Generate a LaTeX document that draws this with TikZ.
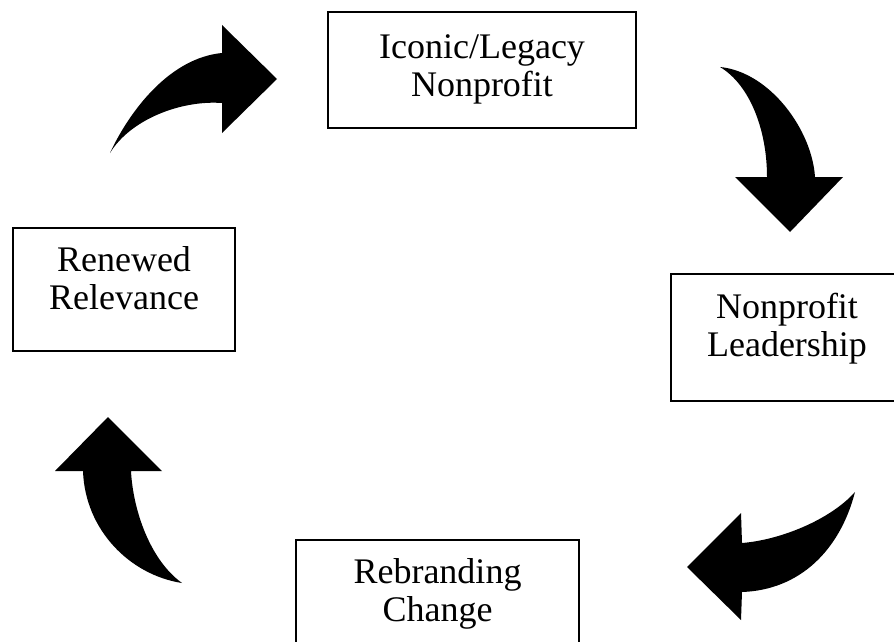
\documentclass[tikz,border=0pt]{standalone}
\usepackage{fontspec}
\setmainfont{Liberation Serif}
\usepackage{tikz}

\begin{document}
\begin{tikzpicture}[
    x=1pt, y=-1pt,
    box/.style={rectangle, draw, line width=2pt, align=center, inner sep=0pt, anchor=north west, font=\fontsize{36}{38}\selectfont},
    bentarrow/.style={fill=black, draw=none}
  ]
    \useasboundingbox (0,0) rectangle (894,642);
    \clip (0,0) rectangle (894,642);
    \fill[white] (0,0) rectangle (894,642);
    % the four stages
    \node[box, minimum width=308pt, text height=84pt, text depth=32pt] (iconic) at (327,11) {Iconic/Legacy\\Nonprofit};
    \node[box, minimum width=232pt, text height=82pt, text depth=45pt] (lead) at (670,273) {Nonprofit\\Leadership};
    \node[box, minimum width=283pt, text height=81pt, text depth=45pt] (rebrand) at (295,539) {Rebranding\\Change};
    \node[box, minimum width=222pt, text height=81pt, text depth=42pt] (renew) at (12,227) {Renewed\\Relevance};
    % curved block arrows
    \fill[bentarrow] (110,153) .. controls (130,110) and (170,58) .. (222,53)
      -- (222,25) -- (277,79) -- (222,133) -- (222,103)
      .. controls (180,100) and (130,120) .. cycle;
    \fill[bentarrow] (720,67) .. controls (770,72) and (812,130) .. (815,177)
      -- (843,177) -- (790,232) -- (735,177) -- (767,177)
      .. controls (767,130) and (750,85) .. cycle;
    \fill[bentarrow] (855,492) .. controls (830,520) and (780,540) .. (742,543)
      -- (741,513) -- (687,567) -- (741,620) -- (742,592)
      .. controls (800,590) and (840,550) .. cycle;
    \fill[bentarrow] (182,583) .. controls (150,560) and (133,510) .. (131,471)
      -- (162,471) -- (108,417) -- (55,471) -- (83,471)
      .. controls (85,530) and (130,575) .. cycle;
  \end{tikzpicture}
\end{document}
